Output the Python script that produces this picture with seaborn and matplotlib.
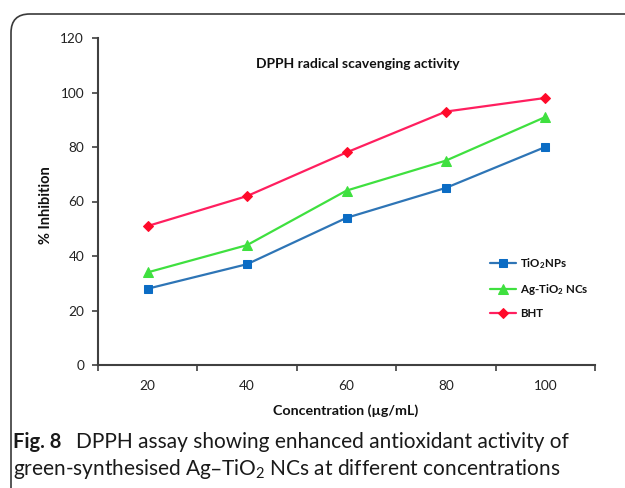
import matplotlib
matplotlib.use("Agg")
import matplotlib.pyplot as plt
import seaborn as sns
import pandas as pd
from matplotlib.patches import FancyBboxPatch

concentrations = ["20", "40", "60", "80", "100"]
tio2_nps = [28, 37, 54, 65, 80]
ag_tio2_ncs = [34, 44, 64, 75, 91]
bht = [51, 62, 78, 93, 98]

series_names = ["TiO$_2$NPs", "Ag-TiO$_2$ NCs", "BHT"]
series_values = [tio2_nps, ag_tio2_ncs, bht]
line_colors = ["#2E75B6", "#3FE03F", "#FF1F5F"]
marker_colors = ["#0B6CC4", "#3FE03F", "#FF0A2A"]
markers = ["s", "^", "D"]
marker_sizes = [6, 7.5, 5.5]

sns.set_theme(style="white")
plt.rcParams["font.family"] = ["Lato", "DejaVu Sans"]
plt.rcParams["mathtext.default"] = "regular"

W, H = 625, 488
fig = plt.figure(figsize=(W / 100, H / 100), dpi=100)
ax = fig.add_axes([98 / W, 1 - 365 / H, (595 - 98) / W, (365 - 38) / H])

pos = list(range(len(concentrations)))
for name, vals, lc, mc, mk, ms in zip(series_names, series_values, line_colors,
                                       marker_colors, markers, marker_sizes):
    df = pd.DataFrame({"x": pos, "y": vals})
    sns.lineplot(data=df, x="x", y="y", ax=ax, color=lc, marker=mk,
                 markersize=ms, markerfacecolor=mc, markeredgecolor=mc,
                 linewidth=1.6, label=name)

ax.set_xlim(-0.5, len(concentrations) - 0.5)
ax.set_ylim(0, 120)
ax.set_yticks(range(0, 121, 20))
ax.set_xticks([p - 0.5 for p in pos] + [len(pos) - 0.5])
ax.set_xticklabels([])
ax.set_xticks(pos, minor=True)
ax.set_xticklabels(concentrations, minor=True)
ax.tick_params(axis="x", which="major", direction="out", length=4, width=1.2,
               color="#404040", bottom=True)
ax.tick_params(axis="x", which="minor", length=0, pad=11, labelsize=9.8,
               labelcolor="#222222")
ax.tick_params(axis="y", direction="out", length=4, width=1.2, color="#404040",
               left=True, labelsize=9.8, labelcolor="#222222", pad=6)

for s in ["top", "right"]:
    ax.spines[s].set_visible(False)
for s in ["left", "bottom"]:
    ax.spines[s].set_color("#404040")
    ax.spines[s].set_linewidth(1.5)

ax.set_xlabel("")
ax.set_ylabel("")
fig.text(46 / W, 1 - 205 / H, "% Inhibition", rotation=90, ha="center",
         va="center", fontsize=10.5, fontweight="bold", color="#111111")
fig.text(346 / W, 1 - 411 / H, "Concentration (µg/mL)", ha="center",
         va="center", fontsize=10.3, fontweight="bold", color="#111111")
fig.text(358 / W, 1 - 64 / H, "DPPH radical scavenging activity", ha="center",
         va="center", fontsize=10, fontweight="bold", color="#111111")

leg = ax.legend(loc="upper left", bbox_to_anchor=(480 / W, 1 - 246 / H),
                bbox_transform=fig.transFigure, frameon=False,
                prop={"weight": "bold", "size": 8.3}, handlelength=2.2,
                labelspacing=0.95, handletextpad=0.4)
for t in leg.get_texts():
    t.set_color("#111111")

frame = FancyBboxPatch((11 / W, -0.2), 1.2, 1 - 14 / H + 0.2,
                       boxstyle="round,pad=0,rounding_size=0.03",
                       transform=fig.transFigure, fill=False,
                       edgecolor="#3a3a3a", linewidth=1.2, clip_on=False,
                       mutation_aspect=W / H)
fig.patches.append(frame)

fig.text(13 / W, 1 - 448 / H, "Fig. 8", fontsize=14.5, fontweight="bold",
         va="baseline", ha="left", color="#1a1a1a")
fig.text(76 / W, 1 - 448 / H,
         "DPPH assay showing enhanced antioxidant activity of",
         fontsize=15, va="baseline", ha="left", color="#1a1a1a")
fig.text(13 / W, 1 - 475 / H,
         "green-synthesised Ag–TiO$_2$ NCs at different concentrations",
         fontsize=15, va="baseline", ha="left", color="#1a1a1a")

fig.savefig("out.png", dpi=100)
